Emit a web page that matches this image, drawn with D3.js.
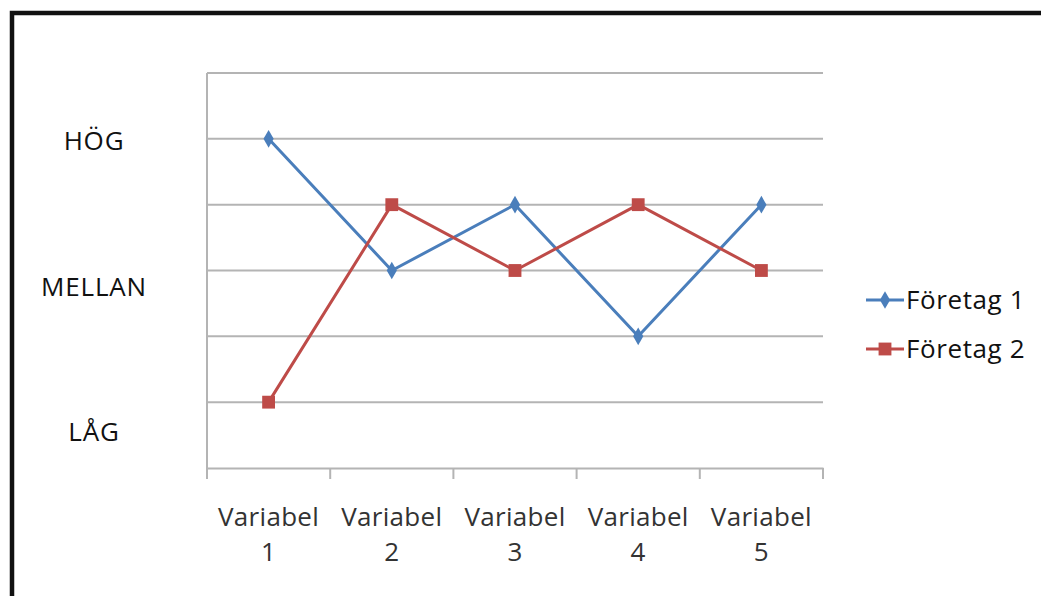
<!DOCTYPE html>
<html>
<head>
<meta charset="utf-8">
<script src="https://cdn.jsdelivr.net/npm/d3@7"></script>
<style>
  html, body { margin: 0; padding: 0; background: #fff; }
  svg { display: block; }
</style>
</head>
<body>
<div id="chart"></div>
<script>
// chart data
const categories = ["Variabel 1", "Variabel 2", "Variabel 3", "Variabel 4", "Variabel 5"]
const foretag1 = [5, 3, 4, 2, 4]
const foretag2 = [1, 4, 3, 4, 3]
const seriesNames = ["Företag 1", "Företag 2"]
const levelLabels = ["HÖG", "MELLAN", "LÅG"]
const levelValues = [4.97, 2.76, 0.55]
const yTicks = [0, 1, 2, 3, 4, 5, 6]

const W = 1041, H = 596
const plot = {left: 207, right: 823, top: 73, bottom: 468}
const colors = {
  blue: '#4a7ebb',
  red: '#be4b48',
  grid: '#b4b4b4',
  text: '#111'
}
const font = "'Open Sans', 'Noto Sans', sans-serif"

const svg = d3.select('#chart').append('svg')
  .attr('width', W)
  .attr('height', H)

// outer frame
svg.append('rect')
  .attr('x', 12).attr('y', 13)
  .attr('width', W + 20).attr('height', H + 20)
  .attr('fill', 'none')
  .attr('stroke', '#111')
  .attr('stroke-width', 4.5)

const x = d3.scaleBand().domain(categories).range([plot.left, plot.right]).padding(0)
const y = d3.scaleLinear().domain([0, 6]).range([plot.bottom, plot.top])
const cx = d => x(d) + x.bandwidth() / 2

// gridlines
svg.append('g')
  .selectAll('line')
  .data(yTicks.slice(1))
  .join('line')
    .attr('x1', plot.left).attr('x2', plot.right)
    .attr('y1', d => y(d)).attr('y2', d => y(d))
    .attr('stroke', colors.grid)
    .attr('stroke-width', 2)

// y axis line
svg.append('line')
  .attr('x1', plot.left).attr('x2', plot.left)
  .attr('y1', plot.top).attr('y2', plot.bottom)
  .attr('stroke', colors.grid)
  .attr('stroke-width', 2)

// x axis
const xAxis = svg.append('g')
  .attr('transform', `translate(0,${plot.bottom})`)
  .call(d3.axisBottom(x).tickSize(0).tickFormat(''))
xAxis.select('.domain').attr('stroke', colors.grid).attr('stroke-width', 2)
xAxis.selectAll('.tick').remove()

// category boundary ticks
const bounds = categories.map(c => x(c)).concat([plot.right])
svg.append('g')
  .selectAll('line')
  .data(bounds)
  .join('line')
    .attr('x1', d => d).attr('x2', d => d)
    .attr('y1', plot.bottom).attr('y2', plot.bottom + 11)
    .attr('stroke', colors.grid)
    .attr('stroke-width', 2)

// category labels (two lines)
const catText = svg.append('g')
  .selectAll('text')
  .data(categories)
  .join('text')
    .attr('text-anchor', 'middle')
    .attr('font-family', font)
    .attr('font-size', 26)
    .attr('letter-spacing', 0.3)
    .attr('fill', '#333')
catText.append('tspan')
  .attr('x', d => cx(d)).attr('y', 526)
  .text(d => d.split(' ')[0])
catText.append('tspan')
  .attr('x', d => cx(d)).attr('y', 561)
  .text(d => d.split(' ')[1])

// level labels
svg.append('g')
  .selectAll('text')
  .data(levelLabels)
  .join('text')
    .attr('x', 94)
    .attr('y', (d, i) => y(levelValues[i]))
    .attr('dy', '0.36em')
    .attr('text-anchor', 'middle')
    .attr('font-family', font)
    .attr('font-size', 26)
    .attr('letter-spacing', 0.8)
    .attr('fill', colors.text)
    .text(d => d)

const line = d3.line().x(d => cx(d.cat)).y(d => y(d.v))
const series = [
  {name: seriesNames[0], values: foretag1, color: colors.blue, symbol: d3.symbolDiamond, size: 90},
  {name: seriesNames[1], values: foretag2, color: colors.red, symbol: d3.symbolSquare, size: 165}
]

series.forEach(s => {
  const pts = s.values.map((v, i) => ({cat: categories[i], v}))
  svg.append('path')
    .datum(pts)
    .attr('d', line)
    .attr('fill', 'none')
    .attr('stroke', s.color)
    .attr('stroke-width', 3)
    .attr('stroke-linejoin', 'round')
  svg.append('g')
    .selectAll('path')
    .data(pts)
    .join('path')
      .attr('transform', d => `translate(${cx(d.cat)},${y(d.v)})`)
      .attr('d', d3.symbol().type(s.symbol).size(s.size))
      .attr('fill', s.color)
})

// legend
const legend = svg.append('g')
  .selectAll('g')
  .data(series)
  .join('g')
    .attr('transform', (d, i) => `translate(866,${300 + i * 49})`)
legend.append('line')
  .attr('x1', 0).attr('x2', 38)
  .attr('stroke', d => d.color)
  .attr('stroke-width', 3)
legend.append('path')
  .attr('transform', 'translate(19,0)')
  .attr('d', d => d3.symbol().type(d.symbol).size(d.size)())
  .attr('fill', d => d.color)
legend.append('text')
  .attr('x', 40)
  .attr('dy', '0.36em')
  .attr('font-family', font)
  .attr('font-size', 26)
  .attr('letter-spacing', 0.6)
  .attr('fill', colors.text)
  .text(d => d.name)
</script>
</body>
</html>
